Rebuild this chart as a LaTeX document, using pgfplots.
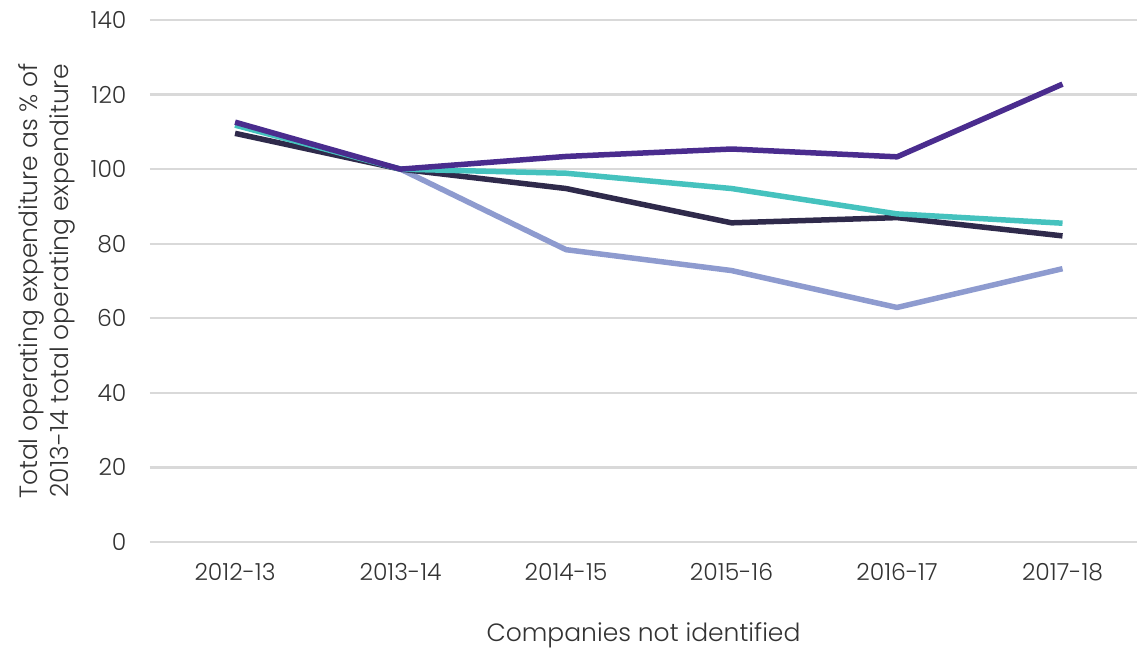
\documentclass[border=0pt]{standalone}
\usepackage{fontspec}
\setmainfont{Poppins Light}
\usepackage{pgfplots}
\pgfplotsset{compat=1.18}
\definecolor{cPurple}{HTML}{4A2C8E}
\definecolor{cTeal}{HTML}{45C2BE}
\definecolor{cDark}{HTML}{2F2A4B}
\definecolor{cLight}{HTML}{8E9BCF}
\definecolor{cGrid}{HTML}{D9D9D9}
\definecolor{cText}{HTML}{333333}
\begin{document}
\begin{tikzpicture}
\begin{axis}[
  scale only axis, width=987pt, height=522pt,
  xmin=-0.514, xmax=5.45, ymin=0, ymax=140,
  axis line style={draw=none},
  xtick={0,1,2,3,4,5},
  xticklabels={2012-13,2013-14,2014-15,2015-16,2016-17,2017-18},
  ytick={0,20,...,140},
  ymajorgrids, grid style={cGrid, line width=2.4pt},
  major tick length=0pt,
  tick label style={font=\fontsize{23.5}{28}\selectfont, text=cText},
  /pgf/number format/assume math mode=true,
  yticklabel style={anchor=east, xshift=-20pt},
  xticklabel style={anchor=center, yshift=-30pt},
  xlabel={Companies not identified},
  xlabel style={font=\fontsize{25}{30}\selectfont, text=cText, at={(axis description cs:0.5,0)}, anchor=center, yshift=-93pt},
  ylabel={Total operating expenditure as \% of\\2013-14 total operating expenditure},
  ylabel style={font=\fontsize{25}{31}\selectfont, text=cText, align=center, at={([xshift=-103pt]axis description cs:0,0.5)}, anchor=center},
  every axis plot/.append style={line width=5.5pt, line join=round},
  clip=false,
]
\addplot[cLight] coordinates {(1,100) (2,78.4) (3,72.8) (4,62.9) (5,73.3)};
\addplot[cDark] coordinates {(0,109.6) (1,100) (2,94.8) (3,85.6) (4,87.0) (5,82.1)};
\addplot[cTeal] coordinates {(0,111.8) (1,100) (2,98.9) (3,94.8) (4,88.0) (5,85.5)};
\addplot[cPurple] coordinates {(0,112.6) (1,100) (2,103.4) (3,105.4) (4,103.3) (5,122.8)};
\end{axis}
\pgfresetboundingbox
\path[use as bounding box] (-150pt,-108pt) rectangle (987pt,542pt);
\end{tikzpicture}
\end{document}
